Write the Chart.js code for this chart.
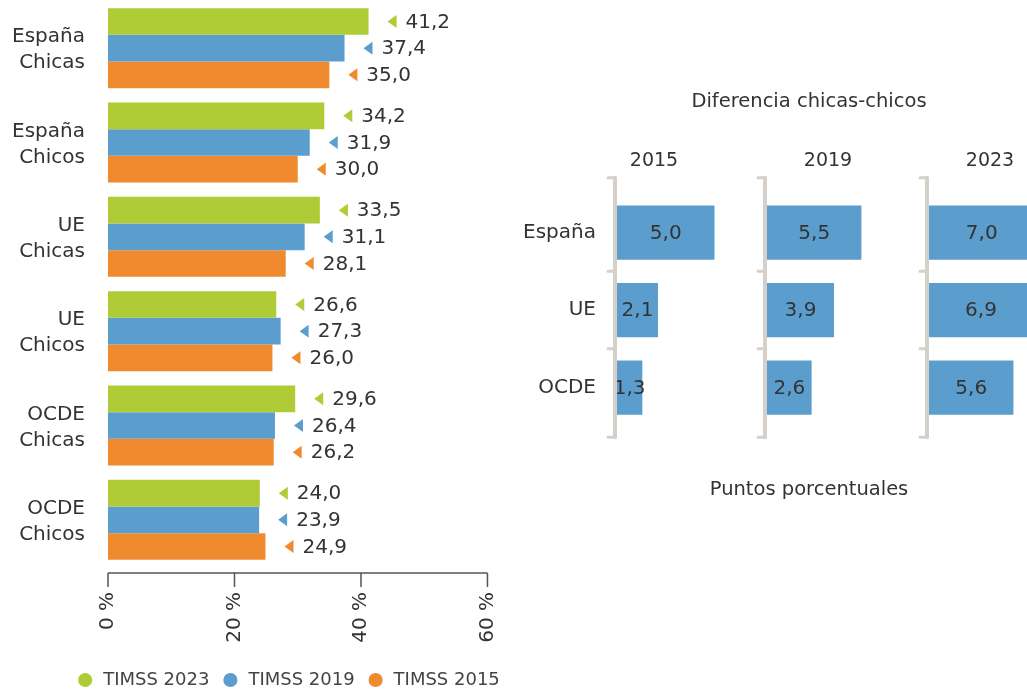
<!DOCTYPE html>
<html><head><meta charset="utf-8">
<script src="https://cdn.jsdelivr.net/npm/chart.js@4.4.1/dist/chart.umd.min.js"></script>
<style>
html,body{margin:0;padding:0;background:#fff;overflow:hidden;width:1027px;height:693px;}
#wrap{position:relative;width:1027px;height:693px;overflow:hidden;}
canvas{position:absolute;top:0;}
.t{position:absolute;font-family:'DejaVu Sans';color:#333;white-space:nowrap;transform:translate(-50%,-50%);line-height:1;}
</style></head><body>
<div id="wrap">
<canvas id="main" width="576" height="693" style="left:0"></canvas>
<canvas id="p1" width="234" height="693" style="left:500px"></canvas>
<canvas id="p2" width="130" height="693" style="left:740px"></canvas>
<canvas id="p3" width="127" height="693" style="left:900px"></canvas>
<div class="t" style="left:809px;top:101px;font-size:19.5px;">Diferencia chicas-chicos</div>
<div class="t" id="y0" style="left:654px;top:159px;font-size:19px;"></div>
<div class="t" id="y1" style="left:828px;top:159px;font-size:19px;"></div>
<div class="t" id="y2" style="left:990px;top:159px;font-size:19px;"></div>
<div class="t" style="left:809px;top:489px;font-size:19.5px;">Puntos porcentuales</div>
</div>
<script>
// ---- data ----
const groups = [['España','Chicas'],['España','Chicos'],['UE','Chicas'],['UE','Chicos'],['OCDE','Chicas'],['OCDE','Chicos']];
const seriesNames = ['TIMSS 2023','TIMSS 2019','TIMSS 2015'];
const timss2023 = [41.2, 34.2, 33.5, 26.6, 29.6, 24.0];
const timss2019 = [37.4, 31.9, 31.1, 27.3, 26.4, 23.9];
const timss2015 = [35.0, 30.0, 28.1, 26.0, 26.2, 24.9];
const xTicks = [0, 20, 40, 60];

const diffCats = ['España','UE','OCDE'];
const panelYears = ['2015','2019','2023'];
const diff2015 = [5.0, 2.1, 1.3];
const diff2019 = [5.5, 3.9, 2.6];
const diff2023 = [7.0, 6.9, 5.6];

// ---- styles ----
const FONT = 'DejaVu Sans';
const TEXT = '#333333';
const C23 = '#AFCB36', C19 = '#5B9ECE', C15 = '#F08A2E';
const fmt = v => v.toFixed(1).replace('.', ',');

panelYears.forEach((y, i) => { document.getElementById('y' + i).textContent = y; });

const axisPlugin = {
  id: 'axisLine',
  afterDraw(chart) {
    const {ctx, chartArea} = chart;
    const xs = chart.scales.x;
    const y0 = chartArea.bottom + 6;
    ctx.save();
    ctx.strokeStyle = '#555';
    ctx.lineWidth = 1.5;
    ctx.beginPath();
    const xa = xs.getPixelForValue(xTicks[0]);
    const xb = xs.getPixelForValue(xTicks[xTicks.length - 1]);
    ctx.moveTo(xa, y0); ctx.lineTo(xb, y0);
    xTicks.forEach(v => {
      const px = xs.getPixelForValue(v);
      ctx.moveTo(px, y0); ctx.lineTo(px, y0 + 14);
    });
    ctx.stroke();
    ctx.restore();
  }
};

const markerLabels = {
  id: 'markerLabels',
  afterDatasetsDraw(chart) {
    const ctx = chart.ctx;
    ctx.save();
    ctx.font = '20px "' + FONT + '"';
    ctx.textBaseline = 'middle';
    ctx.textAlign = 'left';
    chart.data.datasets.forEach((ds, di) => {
      const meta = chart.getDatasetMeta(di);
      meta.data.forEach((el, i) => {
        const tip = el.x + 19;
        ctx.fillStyle = ds.backgroundColor;
        ctx.beginPath();
        ctx.moveTo(tip, el.y);
        ctx.lineTo(tip + 9, el.y - 6.5);
        ctx.lineTo(tip + 9, el.y + 6.5);
        ctx.closePath();
        ctx.fill();
        ctx.fillStyle = TEXT;
        ctx.fillText(fmt(ds.data[i]), tip + 18, el.y + 1);
      });
    });
    ctx.restore();
  }
};

new Chart(document.getElementById('main'), {
  type: 'bar',
  data: {
    labels: groups,
    datasets: [
      {label: seriesNames[0], data: timss2023, backgroundColor: C23},
      {label: seriesNames[1], data: timss2019, backgroundColor: C19},
      {label: seriesNames[2], data: timss2015, backgroundColor: C15}
    ]
  },
  options: {
    responsive: false, animation: false, indexAxis: 'y',
    categoryPercentage: 0.848, barPercentage: 1,
    layout: {padding: {left: 0, right: 0, top: 1, bottom: -6}},
    scales: {
      x: {
        min: 0, max: 74,
        afterBuildTicks: s => { s.ticks = xTicks.map(v => ({value: v})); },
        afterFit: s => { s.height = 92; s.paddingLeft = 0; s.paddingRight = 0; },
        grid: {display: false, drawTicks: false},
        border: {display: false},
        ticks: {autoSkip: false, minRotation: 90, maxRotation: 90, padding: 25,
          font: {family: FONT, size: 20}, color: TEXT, callback: v => v + ' %'}
      },
      y: {
        afterFit: s => { s.width = 108; s.paddingTop = 0; s.paddingBottom = 0; },
        grid: {display: false, drawTicks: false},
        border: {display: false},
        ticks: {padding: 23, labelOffset: 2, font: {family: FONT, size: 20, lineHeight: 1.3}, color: TEXT}
      }
    },
    plugins: {
      legend: {position: 'bottom', labels: {usePointStyle: true, pointStyle: 'circle', boxWidth: 18, boxHeight: 10,
        padding: 12, font: {family: FONT, size: 18}, color: '#444'}},
      tooltip: {enabled: false}
    }
  },
  plugins: [axisPlugin, markerLabels]
});

// ---- right panels ----
const bracket = {
  id: 'bracket',
  afterDraw(chart) {
    const {ctx, chartArea} = chart;
    const ys = chart.scales.y;
    const x = chartArea.left - 2;
    const top = chartArea.top - 16, bot = chartArea.bottom + 11;
    const marks = [top];
    for (let i = 0; i < diffCats.length - 1; i++) {
      marks.push((ys.getPixelForValue(i) + ys.getPixelForValue(i + 1)) / 2);
    }
    marks.push(bot);
    ctx.save();
    ctx.strokeStyle = '#D6D0CB';
    ctx.lineCap = 'round';
    ctx.lineWidth = 4;
    ctx.beginPath(); ctx.moveTo(x, top); ctx.lineTo(x, bot); ctx.stroke();
    ctx.lineWidth = 3;
    ctx.beginPath();
    marks.forEach(m => { ctx.moveTo(x - 7, m); ctx.lineTo(x, m); });
    ctx.stroke();
    ctx.restore();
  }
};
const innerLabels = {
  id: 'innerLabels',
  afterDatasetsDraw(chart) {
    const ctx = chart.ctx;
    ctx.save();
    ctx.font = '20px "' + FONT + '"';
    ctx.fillStyle = TEXT;
    ctx.textAlign = 'center';
    ctx.textBaseline = 'middle';
    const ds = chart.data.datasets[0];
    chart.getDatasetMeta(0).data.forEach((el, i) => {
      ctx.fillText(fmt(ds.data[i]), (el.x + el.base) / 2, el.y + 1);
    });
    ctx.restore();
  }
};

function panel(id, values, xmax, padLeft, showLabels) {
  const yOpts = {
    display: showLabels,
    grid: {display: false, drawTicks: false},
    border: {display: false},
    ticks: {padding: 21, font: {family: FONT, size: 20}, color: TEXT}
  };
  if (showLabels) {
    yOpts.afterFit = s => { s.width = 117; s.paddingTop = 0; s.paddingBottom = 0; };
  }
  return new Chart(document.getElementById(id), {
    type: 'bar',
    data: {labels: diffCats, datasets: [{data: values, backgroundColor: C19}]},
    options: {
      responsive: false, animation: false, indexAxis: 'y',
      categoryPercentage: 1, barPercentage: 0.7,
      layout: {padding: {left: padLeft, right: 0, top: 193.75, bottom: 266.75}},
      scales: {
        x: {display: false, min: 0, max: xmax},
        y: yOpts
      },
      plugins: {legend: {display: false}, tooltip: {enabled: false}}
    },
    plugins: [bracket, innerLabels]
  });
}
panel('p1', diff2015, 6, 0, true);
panel('p2', diff2019, 6, 27, false);
panel('p3', diff2023, 6.5, 29, false);
</script>
</body></html>
